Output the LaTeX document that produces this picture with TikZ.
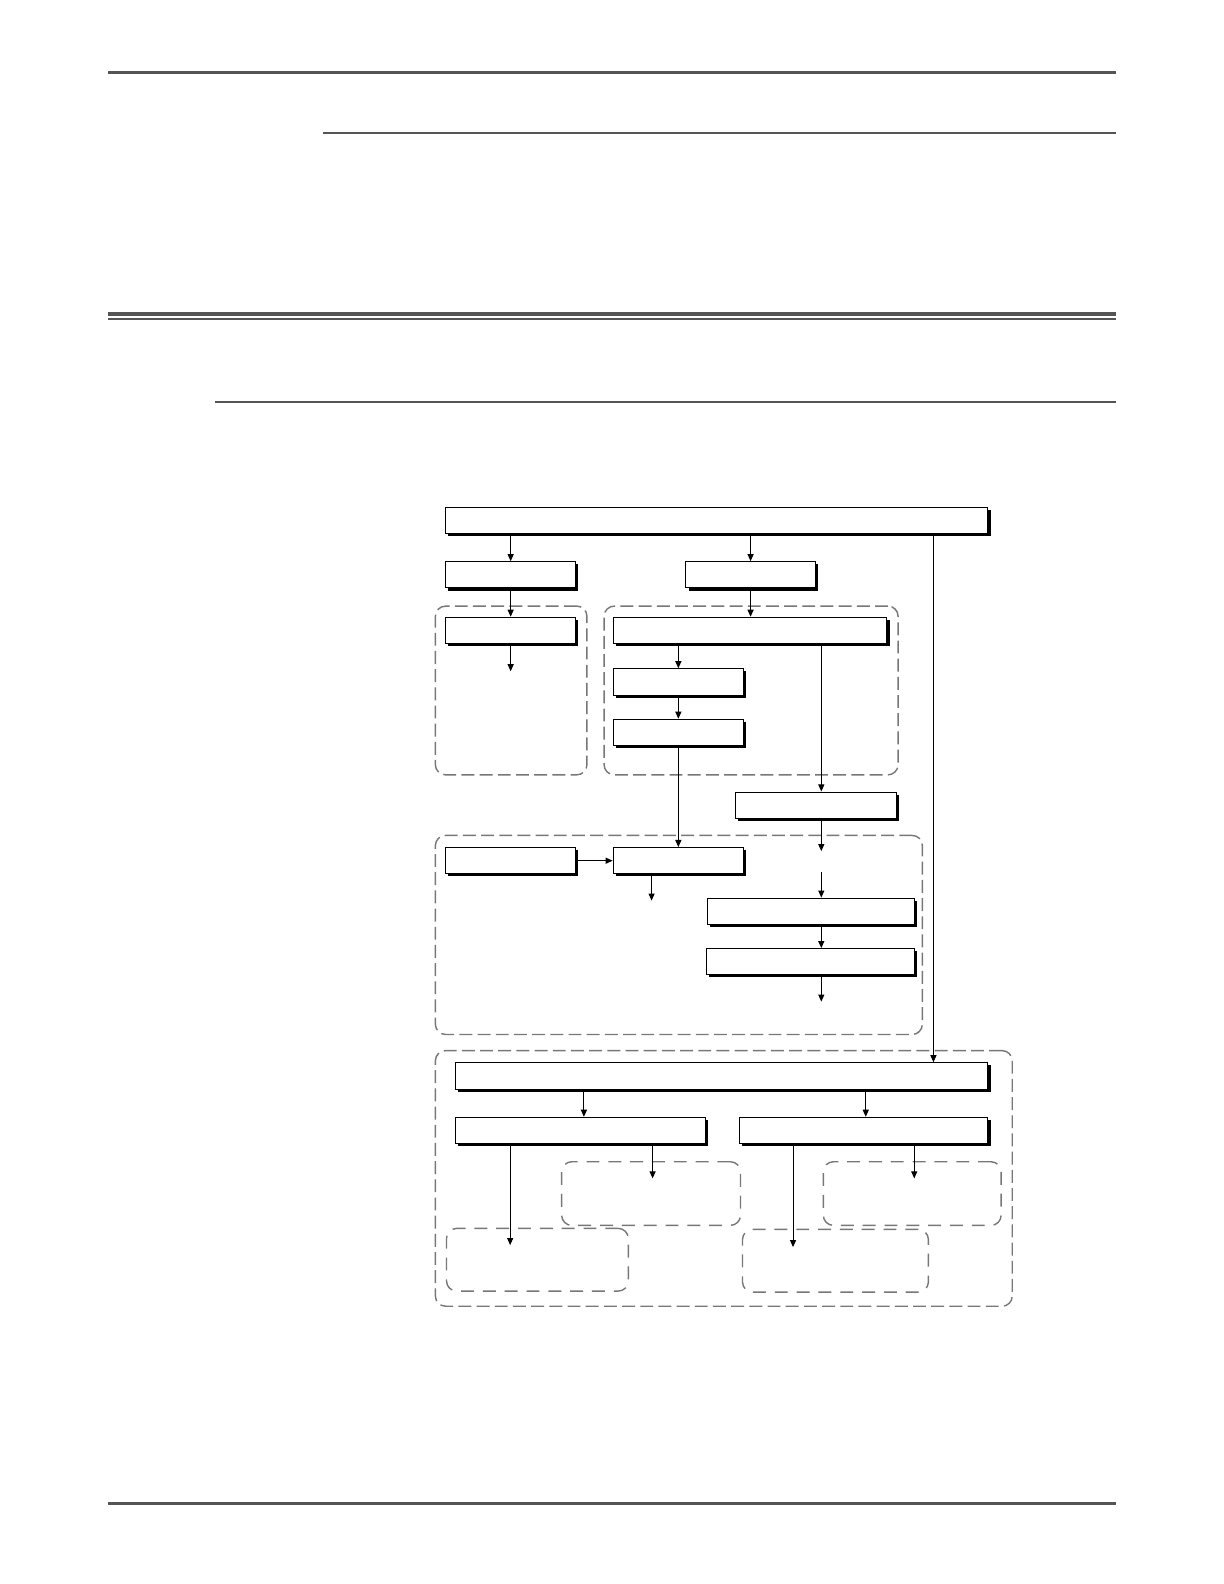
\documentclass[tikz,border=0pt]{standalone}
\usetikzlibrary{arrows.meta,shadows,fit}
\definecolor{rulegray}{HTML}{555555}
\definecolor{dashgray}{HTML}{777777}
\begin{document}
\begin{tikzpicture}[x=0.5pt,y=-0.5pt,
  box/.style={draw=black, line width=0.5pt, fill=white, inner sep=0pt, rectangle,
    drop shadow={shadow xshift=1.3pt, shadow yshift=-1.3pt, fill=black, opacity=1}},
  grp/.style={draw=dashgray, line width=0.7pt, dash pattern=on 6.4pt off 2.6pt,
    rounded corners=5pt, inner sep=0pt, rectangle},
  subgrp/.style={grp, dash pattern=on 6.4pt off 4.4pt},
  arr/.style={draw=black, line width=0.5pt, -{Triangle[length=3.5pt,width=3pt]}},
  rulethick/.style={draw=rulegray, line width=1.5pt},
  rulethin/.style={draw=rulegray, line width=1pt}]
\useasboundingbox (0,0) rectangle (1211.6,1568);

% page rules
\draw[rulethick] (107,72) -- (1105,72);
\draw[rulethin] (320,132) -- (1105,132);
\draw[draw=rulegray, line width=1.75pt] (107,311) -- (1105,311);
\draw[rulethin] (107,316) -- (1105,316);
\draw[rulethin] (213,398) -- (1105,398);
\draw[rulethick] (107,1488) -- (1105,1488);

% dashed groups
\node[grp, fit={(431,600) (581,767)}] (g1) {};
\node[grp, fit={(598,600) (889,767)}] (g2) {};
\node[grp, fit={(431,827) (913,1024)}] (g3) {};
\node[grp, fit={(431,1040) (1002,1293)}] (g4) {};
\node[subgrp, fit={(556,1150) (733,1213)}] (g5) {};
\node[subgrp, fit={(815,1150) (991,1213)}] (g6) {};
\node[subgrp, fit={(442,1216) (622,1278)}] (g7) {};
\node[subgrp, fit={(735,1217) (919,1279)}] (g8) {};

% boxes
\node[box, fit={(441,502) (978,528)}] (top) {};
\node[box, fit={(441,556) (570,582)}] (A) {};
\node[box, fit={(679,556) (807,582)}] (B) {};
\node[box, fit={(441,611) (570,637)}] (C) {};
\node[box, fit={(607,611) (878,637)}] (D) {};
\node[box, fit={(607,662) (736,688)}] (E) {};
\node[box, fit={(607,712) (736,738)}] (F) {};
\node[box, fit={(728,784) (887,810)}] (G) {};
\node[box, fit={(441,839) (570,865)}] (K) {};
\node[box, fit={(607,839) (736,865)}] (H) {};
\node[box, fit={(700,889) (905,915)}] (I) {};
\node[box, fit={(699,939) (905,965)}] (J) {};
\node[box, fit={(451,1052) (978,1078)}] (L) {};
\node[box, fit={(451,1106) (698,1132)}] (M) {};
\node[box, fit={(732,1106) (978,1132)}] (N) {};

% reference columns and free ends
\coordinate (xL) at (924,0);
\coordinate (xG) at (813,0);
\coordinate (xH) at (645,0);
\coordinate (xM) at (578,0);
\coordinate (xN) at (857,0);
\coordinate (xMa) at (505,0);
\coordinate (xMb) at (646,0);
\coordinate (xNa) at (785,0);
\coordinate (xNb) at (905,0);
\coordinate (gapI) at (813,863);

% connectors
\draw[arr] (top.south -| A.north) -- (A.north);
\draw[arr] (top.south -| B.north) -- (B.north);
\draw[arr] (top.south -| xL) -- (L.north -| xL);
\draw[arr] (A.south) -- (C.north);
\draw[arr] (C.south) -- ++(0,27);
\draw[arr] (B.south) -- (B.south |- D.north);
\draw[arr] (D.south -| E.north) -- (E.north);
\draw[arr] (E.south) -- (F.north);
\draw[arr] (F.south) -- (H.north);
\draw[arr] (D.south -| xG) -- (G.north -| xG);
\draw[arr] (G.south -| xG) -- ++(0,32);
\draw[arr] (gapI) -- (I.north -| xG);
\draw[arr] (I.south -| xG) -- (J.north -| xG);
\draw[arr] (J.south -| xG) -- ++(0,26);
\draw[arr] (K.east) -- (H.west);
\draw[arr] (H.south -| xH) -- ++(0,26);
\draw[arr] (L.south -| xM) -- (M.north -| xM);
\draw[arr] (L.south -| xN) -- (N.north -| xN);
\draw[arr] (M.south -| xMa) -- ++(0,100);
\draw[arr] (M.south -| xMb) -- ++(0,34);
\draw[arr] (N.south -| xNa) -- ++(0,102);
\draw[arr] (N.south -| xNb) -- ++(0,34);
\end{tikzpicture}
\end{document}
